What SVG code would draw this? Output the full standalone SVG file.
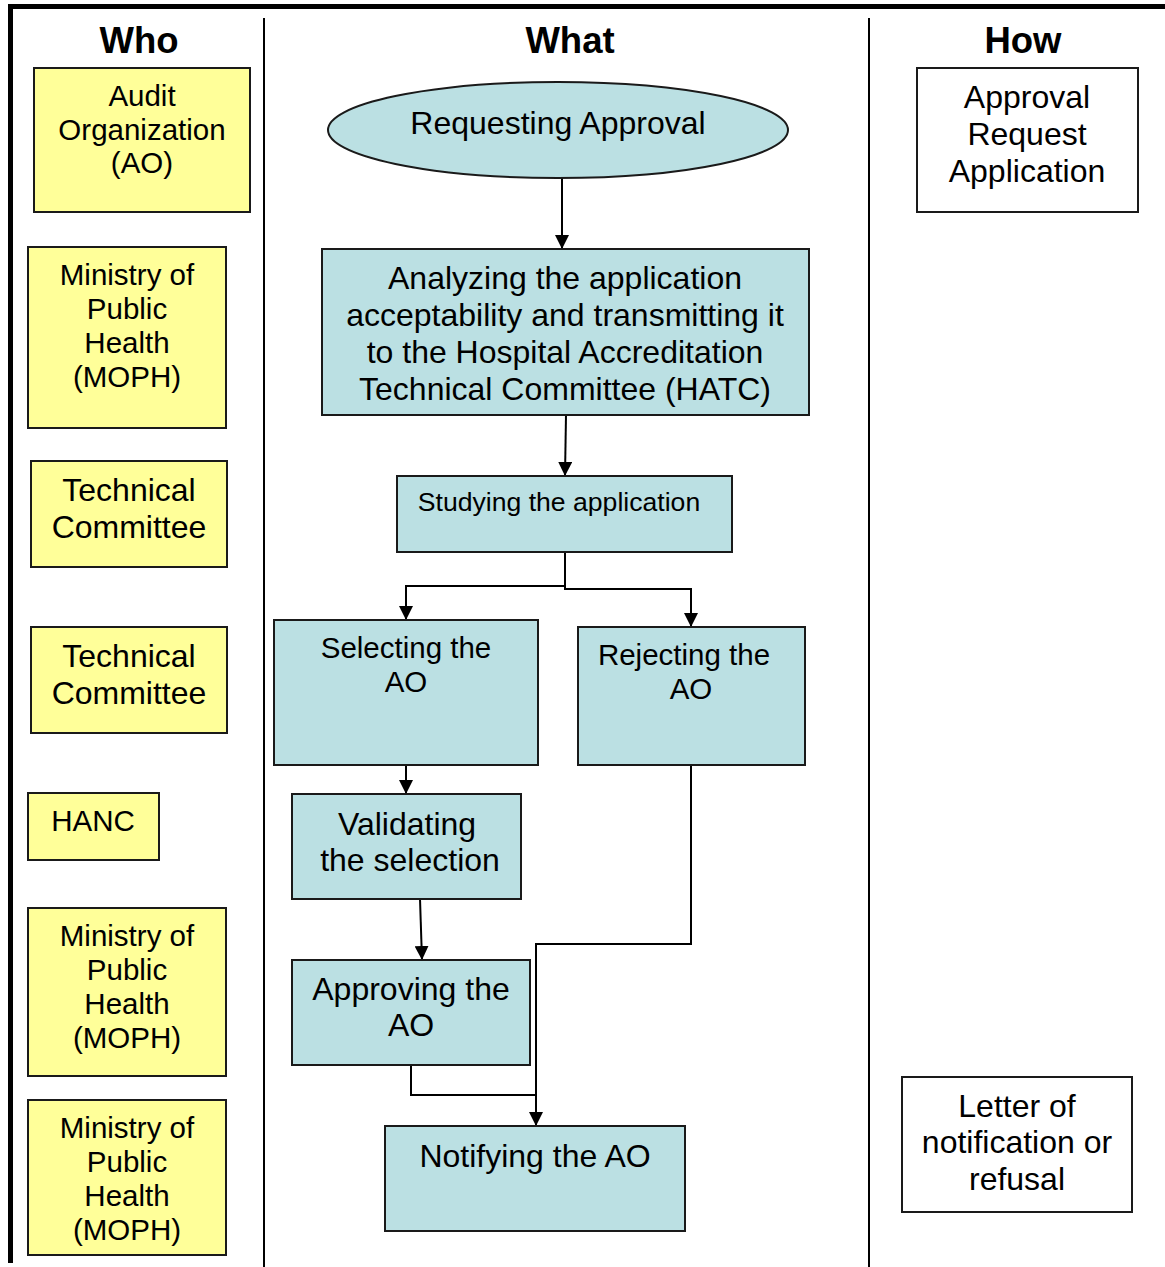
<svg xmlns="http://www.w3.org/2000/svg" width="1165" height="1267" viewBox="0 0 1165 1267">
<defs>
<marker id="arr" viewBox="0 0 14 14" refX="14" refY="7" markerWidth="14" markerHeight="14" markerUnits="userSpaceOnUse" orient="auto">
<path d="M0,0 L14,7 L0,14 Z" fill="#000"/>
</marker>
<style>
text{font-family:"Liberation Sans",Arial,sans-serif;fill:#000;text-anchor:middle}
.h{font-size:36.5px;font-weight:bold}
.who{fill:#FFFF99;stroke:#1a1a1a;stroke-width:2}
.what{fill:#BBE0E3;stroke:#1a1a1a;stroke-width:2}
.how{fill:#fff;stroke:#1a1a1a;stroke-width:2}
.t28{font-size:29.5px}
.t32{font-size:32px}
.t26{font-size:26.6px}
.c{fill:none;stroke:#000;stroke-width:2}
</style>
</defs>
<rect width="1165" height="1267" fill="#fff"/>
<g id="frame">
<line x1="8" y1="6.5" x2="1165" y2="6.5" stroke="#000" stroke-width="5"/>
<line x1="10.5" y1="4" x2="10.5" y2="1263" stroke="#000" stroke-width="5"/>
<line x1="264" y1="18" x2="264" y2="1267" stroke="#000" stroke-width="2"/>
<line x1="869" y1="18" x2="869" y2="1267" stroke="#000" stroke-width="2"/>
<text class="h" x="139" y="53">Who</text>
<text class="h" x="570" y="53">What</text>
<text class="h" x="1023" y="53">How</text>
</g>
<g id="who-ao"><rect class="who" x="34" y="68" width="216" height="144"/>
<text class="t28" x="142" y="106">Audit</text><text class="t28" x="142" y="140">Organization</text><text class="t28" x="142" y="173">(AO)</text></g>
<g id="who-moph1"><rect class="who" x="28" y="247" width="198" height="181"/>
<text class="t28" x="127" y="285">Ministry of</text><text class="t28" x="127" y="319">Public</text><text class="t28" x="127" y="353">Health</text><text class="t28" x="127" y="387">(MOPH)</text></g>
<g id="who-tc1"><rect class="who" x="31" y="461" width="196" height="106"/>
<text class="t32" x="129" y="501">Technical</text><text class="t32" x="129" y="538">Committee</text></g>
<g id="who-tc2"><rect class="who" x="31" y="627" width="196" height="106"/>
<text class="t32" x="129" y="667">Technical</text><text class="t32" x="129" y="704">Committee</text></g>
<g id="who-hanc"><rect class="who" x="28" y="793" width="131" height="67"/>
<text class="t28" x="93" y="831">HANC</text></g>
<g id="who-moph2"><rect class="who" x="28" y="908" width="198" height="168"/>
<text class="t28" x="127" y="946">Ministry of</text><text class="t28" x="127" y="980">Public</text><text class="t28" x="127" y="1014">Health</text><text class="t28" x="127" y="1048">(MOPH)</text></g>
<g id="who-moph3"><rect class="who" x="28" y="1100" width="198" height="155"/>
<text class="t28" x="127" y="1138">Ministry of</text><text class="t28" x="127" y="1172">Public</text><text class="t28" x="127" y="1206">Health</text><text class="t28" x="127" y="1240">(MOPH)</text></g>

<g id="connectors">
<line class="c" x1="562" y1="178" x2="562" y2="249" marker-end="url(#arr)"/>
<line class="c" x1="566" y1="415" x2="565" y2="476" marker-end="url(#arr)"/>
<polyline class="c" points="565,552 565,586 406,586 406,620" marker-end="url(#arr)"/>
<polyline class="c" points="565,586 565,589 691,589 691,627" marker-end="url(#arr)"/>
<line class="c" x1="406" y1="765" x2="406" y2="794" marker-end="url(#arr)"/>
<line class="c" x1="420" y1="899" x2="422" y2="960" marker-end="url(#arr)"/>
<polyline class="c" points="691,765 691,944 536,944 536,1126" marker-end="url(#arr)"/>
<polyline class="c" points="411,1065 411,1095 536,1095"/>
</g>

<g id="what-request"><ellipse class="what" cx="558" cy="130" rx="230" ry="48"/>
<text class="t32" x="558" y="134">Requesting Approval</text></g>
<g id="what-analyze"><rect class="what" x="322" y="249" width="487" height="166"/>
<text class="t32" x="565" y="289">Analyzing the application</text><text class="t32" x="565" y="326">acceptability and transmitting it</text><text class="t32" x="565" y="363">to the Hospital Accreditation</text><text class="t32" x="565" y="400">Technical Committee (HATC)</text></g>
<g id="what-study"><rect class="what" x="397" y="476" width="335" height="76"/>
<text class="t26" x="559" y="511">Studying the application</text></g>
<g id="what-select"><rect class="what" x="274" y="620" width="264" height="145"/>
<text class="t28" x="406" y="658">Selecting the</text><text class="t28" x="406" y="692">AO</text></g>
<g id="what-reject"><rect class="what" x="578" y="627" width="227" height="138"/>
<text class="t28" x="684" y="665">Rejecting the</text><text class="t28" x="691" y="699">AO</text></g>
<g id="what-validate"><rect class="what" x="292" y="794" width="229" height="105"/>
<text class="t32" x="407" y="835">Validating</text><text class="t32" x="410" y="871">the selection</text></g>
<g id="what-approve"><rect class="what" x="292" y="960" width="238" height="105"/>
<text class="t32" x="411" y="1000">Approving the</text><text class="t32" x="411" y="1036">AO</text></g>
<g id="what-notify"><rect class="what" x="385" y="1126" width="300" height="105"/>
<text class="t32" x="535" y="1167">Notifying the AO</text></g>

<g id="how-application"><rect class="how" x="917" y="68" width="221" height="144"/>
<text class="t32" x="1027" y="108">Approval</text><text class="t32" x="1027" y="145">Request</text><text class="t32" x="1027" y="182">Application</text></g>
<g id="how-letter"><rect class="how" x="902" y="1077" width="230" height="135"/>
<text class="t32" x="1017" y="1117">Letter of</text><text class="t32" x="1017" y="1153">notification or</text><text class="t32" x="1017" y="1190">refusal</text></g>
</svg>
